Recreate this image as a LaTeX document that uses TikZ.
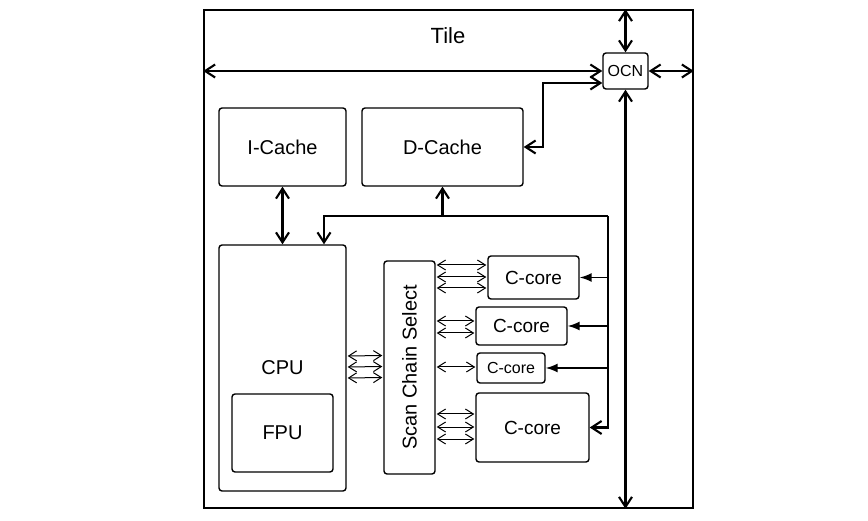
\documentclass[tikz,border=0pt]{standalone}
\usepackage{fontspec}
\setmainfont{Liberation Sans}
\usetikzlibrary{arrows.meta,calc}
\begin{document}
\begin{tikzpicture}[x=1pt,y=-1pt,
  box/.style={draw, line width=1.4pt, rounded corners=3pt, inner sep=0pt, font=\fontsize{20}{24}\selectfont},
  bigarr/.style={line width=2.1pt, {Straight Barb[length=10pt,width=13pt]}-{Straight Barb[length=10pt,width=13pt]}},
  onearr/.style={line width=2.1pt, -{Straight Barb[length=10pt,width=13pt]}},
  fillarr/.style={line width=1.5pt, -{Latex[length=12pt,width=9pt]}},
  smallarr/.style={line width=1pt, {Straight Barb[length=8pt,width=10pt]}-{Straight Barb[length=8pt,width=10pt]}}
]
\useasboundingbox (0,0) rectangle (868,521);
% frame
\node[draw, line width=1.6pt, minimum width=489pt, minimum height=498pt, inner sep=0pt] (tile) at (448.5,259) {};
\node[font=\fontsize{22}{26}\selectfont] (tilelbl) at (448,36) {Tile};
% boxes
\node[box, minimum width=45pt, minimum height=36pt, font=\fontsize{16}{19}\selectfont] (ocn) at (625.5,71) {OCN};
\node[box, minimum width=127pt, minimum height=78pt] (icache) at (282.5,147) {I-Cache};
\node[box, minimum width=161pt, minimum height=78pt] (dcache) at (442.5,147) {D-Cache};
\node[box, minimum width=127pt, minimum height=246pt] (cpu) at (282.5,368) {CPU};
\node[box, minimum width=101pt, minimum height=78pt] (fpu) at (282.5,433) {FPU};
\node[box, minimum width=51pt, minimum height=213pt] (scs) at (409.5,367.5) {};
\node[rotate=90, font=\fontsize{20}{24}\selectfont] (scslbl) at (scs.center) {Scan Chain Select};
\node[box, minimum width=91pt, minimum height=43pt, font=\fontsize{19}{23}\selectfont] (c1) at (533.5,277.5) {C-core};
\node[box, minimum width=91pt, minimum height=38pt, font=\fontsize{19}{23}\selectfont] (c2) at (521.5,326) {C-core};
\node[box, minimum width=68pt, minimum height=30pt, font=\fontsize{16}{19}\selectfont] (c3) at (511,368) {C-core};
\node[box, minimum width=113pt, minimum height=69pt, font=\fontsize{19}{23}\selectfont] (c4) at (532.5,427.5) {C-core};
% OCN connections
\draw[bigarr] (ocn.north) -- (ocn.north |- tile.north);
\draw[bigarr] (ocn.east) -- (ocn.east -| tile.east);
\draw[bigarr] (ocn.west -| tile.west) -- (ocn.west);
\draw[bigarr] (ocn.south) -- (ocn.south |- tile.south);
\coordinate (ocnin) at ($(ocn.west)+(0,12)$);
\draw[bigarr] (dcache.east) -- (543,147) -- (543,83) -- (ocnin);
% I-cache to CPU
\draw[bigarr] (icache.south) -- (cpu.north);
% bus
\coordinate (busL) at (324,216);
\coordinate (busR) at (608,216);
\coordinate (busJ) at (dcache.south |- busL);
\draw[onearr] (busJ) -- (dcache.south);
\draw[onearr] (busR) -- (busL) -- (busL |- cpu.north);
\draw[onearr] (busR) -- (busR |- c4.east) -- (c4.east);
\draw[fillarr] (busR |- c1.east) -- (c1.east);
\draw[fillarr] (busR |- c2.east) -- (c2.east);
\draw[fillarr] (busR |- c3.east) -- (c3.east);
% CPU - scan chain
\foreach \dy in {-12,-1,10}{
  \draw[smallarr] ($(cpu.east)+(1,\dy)$) -- ($(scs.west)+(-1,\dy)$);
}
% scan chain - cores
\foreach \dy in {-12.5,-0.5,10.5}{
  \draw[smallarr] ($(scs.east |- c1.west)+(1,\dy)$) -- ($(c1.west)+(-1,\dy)$);
}
\foreach \dy in {-5,7}{
  \draw[smallarr] ($(scs.east |- c2.west)+(1,\dy)$) -- ($(c2.west)+(-1,\dy)$);
}
\draw[smallarr] ($(scs.east |- c3.west)+(1,-1)$) -- ($(c3.west)+(-1,-1)$);
\foreach \dy in {-13.5,-0.5,11.5}{
  \draw[smallarr] ($(scs.east |- c4.west)+(1,\dy)$) -- ($(c4.west)+(-1,\dy)$);
}
\end{tikzpicture}
\end{document}
